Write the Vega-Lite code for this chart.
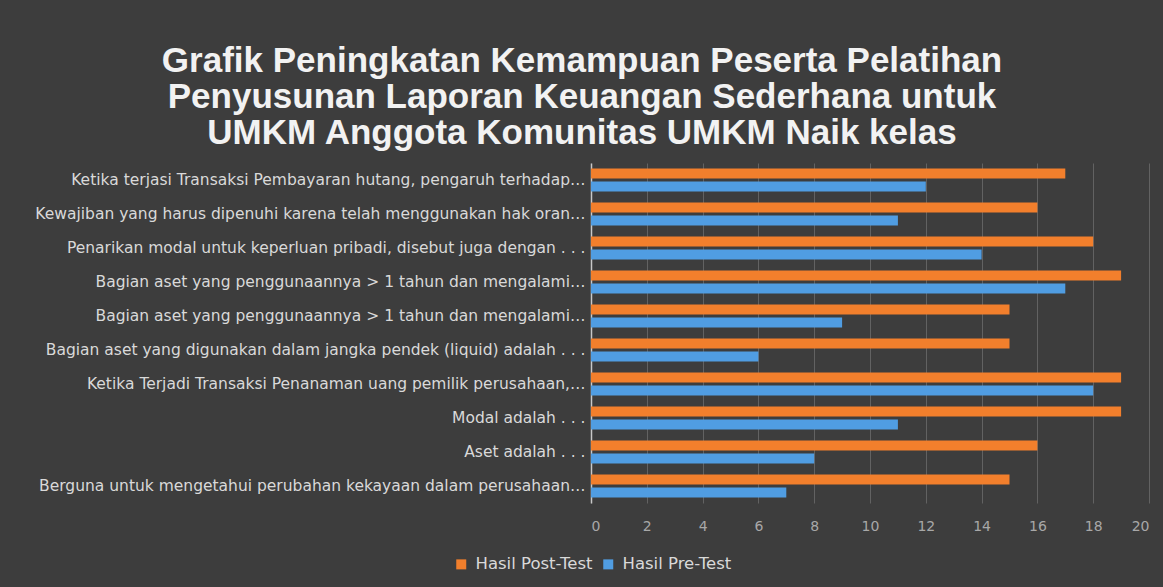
{
  "$schema": "https://vega.github.io/schema/vega-lite/v6.json",
  "width": 558,
  "height": 340,
  "autosize": {"type": "none"},
  "padding": {"left": 591, "top": 163, "right": 14, "bottom": 84},
  "background": "#3d3d3d",
  "title": {
    "text": ["Grafik Peningkatan Kemampuan Peserta Pelatihan", "Penyusunan Laporan Keuangan Sederhana untuk", "UMKM Anggota Komunitas UMKM Naik kelas"],
    "anchor": "middle",
    "frame": "group",
    "dx": -288,
    "offset": 12,
    "font": "Liberation Sans",
    "fontSize": 35,
    "fontWeight": "bold",
    "lineHeight": 36,
    "color": "#f2f2f2"
  },
  "data": {
    "values": [
      {"no": 1, "pertanyaan": "Ketika terjasi Transaksi Pembayaran hutang, pengaruh terhadap…", "test": "Hasil Post-Test", "nilai": 17},
      {"no": 1, "pertanyaan": "Ketika terjasi Transaksi Pembayaran hutang, pengaruh terhadap…", "test": "Hasil Pre-Test", "nilai": 12},
      {"no": 2, "pertanyaan": "Kewajiban yang harus dipenuhi karena telah menggunakan hak oran…", "test": "Hasil Post-Test", "nilai": 16},
      {"no": 2, "pertanyaan": "Kewajiban yang harus dipenuhi karena telah menggunakan hak oran…", "test": "Hasil Pre-Test", "nilai": 11},
      {"no": 3, "pertanyaan": "Penarikan modal untuk keperluan pribadi, disebut juga dengan . . .", "test": "Hasil Post-Test", "nilai": 18},
      {"no": 3, "pertanyaan": "Penarikan modal untuk keperluan pribadi, disebut juga dengan . . .", "test": "Hasil Pre-Test", "nilai": 14},
      {"no": 4, "pertanyaan": "Bagian aset yang penggunaannya > 1 tahun dan mengalami…", "test": "Hasil Post-Test", "nilai": 19},
      {"no": 4, "pertanyaan": "Bagian aset yang penggunaannya > 1 tahun dan mengalami…", "test": "Hasil Pre-Test", "nilai": 17},
      {"no": 5, "pertanyaan": "Bagian aset yang penggunaannya > 1 tahun dan mengalami…\u200b", "test": "Hasil Post-Test", "nilai": 15},
      {"no": 5, "pertanyaan": "Bagian aset yang penggunaannya > 1 tahun dan mengalami…\u200b", "test": "Hasil Pre-Test", "nilai": 9},
      {"no": 6, "pertanyaan": "Bagian aset yang digunakan dalam jangka pendek (liquid) adalah . . .", "test": "Hasil Post-Test", "nilai": 15},
      {"no": 6, "pertanyaan": "Bagian aset yang digunakan dalam jangka pendek (liquid) adalah . . .", "test": "Hasil Pre-Test", "nilai": 6},
      {"no": 7, "pertanyaan": "Ketika Terjadi Transaksi Penanaman uang pemilik perusahaan,…", "test": "Hasil Post-Test", "nilai": 19},
      {"no": 7, "pertanyaan": "Ketika Terjadi Transaksi Penanaman uang pemilik perusahaan,…", "test": "Hasil Pre-Test", "nilai": 18},
      {"no": 8, "pertanyaan": "Modal adalah . . .", "test": "Hasil Post-Test", "nilai": 19},
      {"no": 8, "pertanyaan": "Modal adalah . . .", "test": "Hasil Pre-Test", "nilai": 11},
      {"no": 9, "pertanyaan": "Aset adalah . . .", "test": "Hasil Post-Test", "nilai": 16},
      {"no": 9, "pertanyaan": "Aset adalah . . .", "test": "Hasil Pre-Test", "nilai": 8},
      {"no": 10, "pertanyaan": "Berguna untuk mengetahui perubahan kekayaan dalam perusahaan…", "test": "Hasil Post-Test", "nilai": 15},
      {"no": 10, "pertanyaan": "Berguna untuk mengetahui perubahan kekayaan dalam perusahaan…", "test": "Hasil Pre-Test", "nilai": 7}
    ]
  },
  "mark": {"type": "bar"},
  "encoding": {
    "y": {
      "field": "pertanyaan",
      "type": "nominal",
      "sort": {"field": "no", "op": "min", "order": "ascending"},
      "scale": {"paddingInner": 0.32, "paddingOuter": 0.16},
      "axis": {
        "title": null,
        "ticks": false,
        "labelPadding": 6,
        "labelFont": "DejaVu Sans",
        "labelFontSize": 15.5,
        "labelColor": "#d9d9d9",
        "labelLimit": 700,
        "domain": true,
        "domainColor": "#c8c8c8",
        "domainWidth": 1.5,
        "grid": false
      }
    },
    "yOffset": {
      "field": "test",
      "type": "nominal",
      "sort": ["Hasil Post-Test", "Hasil Pre-Test"],
      "scale": {"paddingInner": 0.23, "paddingOuter": 0}
    },
    "x": {
      "field": "nilai",
      "type": "quantitative",
      "scale": {"domain": [0, 20], "nice": false},
      "axis": {
        "title": null,
        "values": [0, 2, 4, 6, 8, 10, 12, 14, 16, 18, 20],
        "ticks": false,
        "domain": false,
        "labelPadding": 16,
        "labelFont": "DejaVu Sans",
        "labelFontSize": 14,
        "labelColor": "#a8a8a8",
        "grid": true,
        "gridColor": "#626262",
        "gridWidth": 1
      }
    },
    "color": {
      "field": "test",
      "type": "nominal",
      "sort": ["Hasil Post-Test", "Hasil Pre-Test"],
      "scale": {"domain": ["Hasil Post-Test", "Hasil Pre-Test"], "range": ["#F27F2C", "#509DE2"]},
      "legend": {
        "title": null,
        "orient": "none",
        "direction": "horizontal",
        "legendX": -138,
        "legendY": 393,
        "symbolType": "square",
        "symbolSize": 100,
        "symbolStrokeWidth": 0,
        "labelFont": "DejaVu Sans",
        "labelFontSize": 16.5,
        "labelColor": "#d9d9d9",
        "labelOffset": 6,
        "columnPadding": 7
      }
    }
  },
  "config": {
    "view": {"stroke": null}
  }
}
